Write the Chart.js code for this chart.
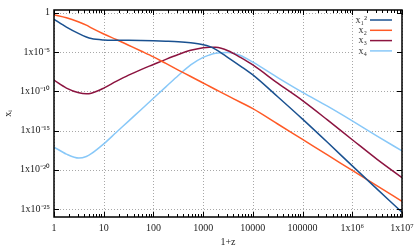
<!DOCTYPE html>
<html>
<head>
<meta charset="utf-8">
<script src="https://cdn.jsdelivr.net/npm/chart.js@4.4.1/dist/chart.umd.min.js"></script>
<style>
html, body { margin: 0; padding: 0; background: #fff; }
#wrap { width: 415px; height: 249px; }
</style>
</head>
<body>
<div id="wrap"><canvas id="chart" width="415" height="249"></canvas></div>
<script>
// sample points along 1+z, given as powers of ten
const logOnePlusZ = [0, 0.25, 0.5, 0.65, 0.75, 1, 1.25, 1.5, 1.75, 2, 2.25, 2.5, 2.75, 3, 3.125, 3.25, 3.5, 3.75, 4, 4.5, 5, 5.5, 6, 6.5, 7];

// abundances, also as powers of ten
const logX1sq = [-0.85, -1.85, -2.68, -3.1, -3.3, -3.48, -3.52, -3.53, -3.55, -3.58, -3.63, -3.7, -3.84, -4.08, -4.3, -4.68, -5.72, -6.8, -7.92, -10.7, -13.55, -16.5, -19.5, -22.45, -25.4];
const logX2 = [-0.27, -0.65, -1.2, -1.6, -1.95, -2.72, -3.42, -4.15, -4.88, -5.63, -6.47, -7.31, -8.13, -8.96, -9.37, -9.78, -10.6, -11.4, -12.22, -14.17, -16.14, -18.1, -20.08, -22.05, -24.0];
const logX3 = [-8.6, -9.6, -10.2, -10.33, -10.25, -9.6, -8.75, -7.95, -7.25, -6.6, -5.95, -5.34, -4.8, -4.47, -4.4, -4.42, -4.85, -5.7, -6.66, -8.98, -11.2, -13.65, -16.17, -18.67, -21.0];
const logX4 = [-17.1, -18.0, -18.5, -18.3, -17.95, -16.7, -15.25, -13.8, -12.35, -10.9, -9.45, -8.0, -6.65, -5.7, -5.4, -5.18, -5.07, -5.45, -6.3, -8.26, -10.14, -11.9, -13.77, -15.7, -17.6];

const seriesLabels = ['x\u2081\u00b2', 'x\u2082', 'x\u2083', 'x\u2084'];
const seriesColors = ['#1a5190', '#ff5a26', '#8c1440', '#88c8f8'];

const xTickValues = [];
for (let d = 0; d < 7; d++) {
    for (let m = 1; m < 10; m++) xTickValues.push(m * 10 ** d);
}
xTickValues.push(1e7);
const xTickLabels = { 1: '1', 10: '10', 100: '100', 1000: '1000', 10000: '10000', 100000: '100000', 1000000: '1x10\u2076', 10000000: '1x10\u2077' };

const yTickValues = [1e-25, 1e-20, 1e-15, 1e-10, 1e-5, 1];
const yTickLabels = ['1x10\u207b\u00b2\u2075', '1x10\u207b\u00b2\u2070', '1x10\u207b\u00b9\u2075', '1x10\u207b\u00b9\u2070', '1x10\u207b\u2075', '1'];

const serif = "'Liberation Serif', 'Times New Roman', serif";

function toPoints(logY) {
    return logOnePlusZ.map((lx, i) => ({ x: 10 ** lx, y: 10 ** logY[i] }));
}

function isDecade(v) {
    const l = Math.log10(v);
    return Math.abs(l - Math.round(l)) < 1e-9;
}

const axesFrame = {
    id: 'axesFrame',
    beforeDatasetsDraw(chart) {
        const { ctx, chartArea: a, scales: { x, y } } = chart;
        ctx.save();
        ctx.strokeStyle = '#a8a8a8';
        ctx.lineWidth = 1;
        ctx.setLineDash([1, 2]);
        ctx.beginPath();
        x.ticks.forEach(t => {
            if (!isDecade(t.value)) return;
            const px = Math.round(x.getPixelForValue(t.value)) + 0.5;
            ctx.moveTo(px, a.top);
            ctx.lineTo(px, a.bottom);
        });
        y.ticks.forEach(t => {
            const py = Math.round(y.getPixelForValue(t.value)) + 0.5;
            ctx.moveTo(a.left, py);
            ctx.lineTo(a.right, py);
        });
        ctx.stroke();
        ctx.restore();
    },
    afterDatasetsDraw(chart) {
        const { ctx, chartArea: a, scales: { x, y } } = chart;
        ctx.save();

        // key, gnuplot style: label on the left, sample on the right
        ctx.fillStyle = '#fff';
        ctx.fillRect(a.right - 49, a.top + 1, 48, 47);
        ctx.font = '10px ' + serif;
        ctx.textAlign = 'right';
        ctx.textBaseline = 'middle';
        chart.data.datasets.forEach((ds, i) => {
            const ry = a.top + 10 + i * 10.3;
            ctx.fillStyle = '#333';
            ctx.fillText(ds.label, a.right - 35, ry);
            ctx.strokeStyle = ds.borderColor;
            ctx.lineWidth = 1.5;
            ctx.beginPath();
            ctx.moveTo(a.right - 32, ry);
            ctx.lineTo(a.right - 10, ry);
            ctx.stroke();
        });

        // inward ticks
        ctx.strokeStyle = '#000';
        ctx.lineWidth = 1;
        ctx.beginPath();
        x.ticks.forEach(t => {
            const px = Math.round(x.getPixelForValue(t.value)) + 0.5;
            const len = isDecade(t.value) ? 5 : 3;
            ctx.moveTo(px, a.bottom);
            ctx.lineTo(px, a.bottom - len);
            ctx.moveTo(px, a.top);
            ctx.lineTo(px, a.top + len);
        });
        y.ticks.forEach(t => {
            const py = Math.round(y.getPixelForValue(t.value)) + 0.5;
            ctx.moveTo(a.left, py);
            ctx.lineTo(a.left + 5, py);
            ctx.moveTo(a.right, py);
            ctx.lineTo(a.right - 5, py);
        });
        ctx.stroke();

        // frame
        ctx.lineWidth = 1.5;
        ctx.strokeRect(a.left, a.top, a.right - a.left, a.bottom - a.top);
        ctx.restore();
    }
};

const datasets = [logX1sq, logX2, logX3, logX4].map((arr, i) => ({
    label: seriesLabels[i],
    data: toPoints(arr),
    borderColor: seriesColors[i],
    borderWidth: 1.5,
    pointRadius: 0,
    fill: false,
    cubicInterpolationMode: 'monotone'
}));

new Chart(document.getElementById('chart'), {
    type: 'line',
    data: { datasets },
    plugins: [axesFrame],
    options: {
        responsive: false,
        animation: false,
        events: [],
        layout: { padding: { top: 10, right: 13, left: 0, bottom: 0 } },
        plugins: {
            legend: { display: false },
            tooltip: { enabled: false }
        },
        scales: {
            x: {
                type: 'logarithmic',
                min: 1,
                max: 1e7,
                grid: { display: false, drawTicks: false },
                border: { display: false },
                afterBuildTicks: scale => {
                    scale.ticks = xTickValues.map(v => ({ value: v }));
                },
                afterFit: scale => {
                    scale.height = 32;
                    scale.paddingLeft = 0;
                    scale.paddingRight = 0;
                },
                ticks: {
                    autoSkip: false,
                    maxRotation: 0,
                    padding: 5,
                    color: '#222',
                    font: { family: serif, size: 10 },
                    callback: v => xTickLabels[v] || ''
                },
                title: {
                    display: true,
                    text: '1+z',
                    color: '#222',
                    font: { family: serif, size: 10 },
                    padding: { top: 0, bottom: 1 }
                }
            },
            y: {
                type: 'logarithmic',
                min: 10 ** -25.9,
                max: 10 ** 0.33,
                grid: { display: false, drawTicks: false },
                border: { display: false },
                afterBuildTicks: scale => {
                    scale.ticks = yTickValues.map(v => ({ value: v }));
                },
                afterFit: scale => {
                    scale.width = 54;
                    scale.paddingTop = 0;
                    scale.paddingBottom = 0;
                },
                ticks: {
                    autoSkip: false,
                    padding: 4,
                    color: '#222',
                    font: { family: serif, size: 10 },
                    callback: (v, i) => yTickLabels[i]
                },
                title: {
                    display: true,
                    text: 'x\u1d62',
                    color: '#222',
                    font: { family: serif, size: 10 },
                    padding: { top: 2, bottom: 0 }
                }
            }
        }
    }
});
</script>
</body>
</html>
